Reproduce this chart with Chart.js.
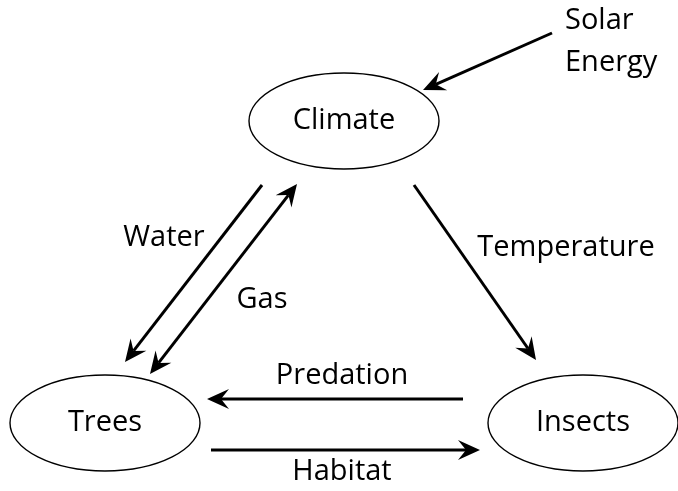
<!DOCTYPE html>
<html>
<head>
<meta charset="utf-8">
<script src="https://cdn.jsdelivr.net/npm/chart.js@4.4.1/dist/chart.umd.min.js"></script>
<style>
  html, body { margin: 0; padding: 0; background: #fff; }
  #wrap { width: 678px; height: 491px; }
</style>
</head>
<body>
<div id="wrap"><canvas id="diagram" width="678" height="491"></canvas></div>
<script>
// ========== Dados do diagrama ==========
const nodeNames = ['Climate', 'Trees', 'Insects'];
const nodeX = [344, 105, 583];
const nodeY = [121, 423, 423];

const arrowLabels = ['', 'Water', 'Gas', 'Temperature', 'Predation', 'Habitat'];
const arrowStartX = [552, 262, 150, 414, 463, 211];
const arrowStartY = [33, 185, 374, 185, 399, 450];
const arrowEndX = [423, 125, 297, 536, 207, 480];
const arrowEndY = [90, 362, 184, 360, 399, 450];
const arrowBothEnds = [false, false, true, false, false, false];
const labelX = [0, 164, 262, 566, 342, 342];
const labelY = [0, 238, 300, 248, 376, 472];

const sourceLines = ['Solar', 'Energy'];
const sourceX = [565, 565];
const sourceY = [21, 63];

const FONT = '29px "Open Sans", "Noto Sans", sans-serif';

function drawHead(ctx, x0, y0, x1, y1) {
    const ang = Math.atan2(y1 - y0, x1 - x0);
    const len = 22, half = 10, notch = 8;
    ctx.save();
    ctx.translate(x1, y1);
    ctx.rotate(ang);
    ctx.beginPath();
    ctx.moveTo(0, 0);
    ctx.lineTo(-len, -half);
    ctx.lineTo(-len + notch, 0);
    ctx.lineTo(-len, half);
    ctx.closePath();
    ctx.fill();
    ctx.restore();
}

const diagramPlugin = {
    id: 'diagram',
    afterDatasetsDraw(chart) {
        const { ctx, scales: { x, y } } = chart;
        ctx.save();
        ctx.strokeStyle = '#000';
        ctx.fillStyle = '#000';

        // elipses + nomes
        ctx.lineWidth = 1.4;
        ctx.font = FONT;
        ctx.textAlign = 'center';
        ctx.textBaseline = 'middle';
        nodeNames.forEach((name, i) => {
            const cx = x.getPixelForValue(nodeX[i]);
            const cy = y.getPixelForValue(nodeY[i]);
            ctx.beginPath();
            ctx.ellipse(cx, cy, 95, 48, 0, 0, Math.PI * 2);
            ctx.stroke();
            ctx.fillText(name, cx, cy);
        });

        // setas
        ctx.lineWidth = 3;
        arrowLabels.forEach((lab, i) => {
            const sx = x.getPixelForValue(arrowStartX[i]);
            const sy = y.getPixelForValue(arrowStartY[i]);
            const ex = x.getPixelForValue(arrowEndX[i]);
            const ey = y.getPixelForValue(arrowEndY[i]);
            const ang = Math.atan2(ey - sy, ex - sx);
            const trim = 14;
            const sx2 = arrowBothEnds[i] ? sx + Math.cos(ang) * trim : sx;
            const sy2 = arrowBothEnds[i] ? sy + Math.sin(ang) * trim : sy;
            ctx.beginPath();
            ctx.moveTo(sx2, sy2);
            ctx.lineTo(ex - Math.cos(ang) * trim, ey - Math.sin(ang) * trim);
            ctx.stroke();
            drawHead(ctx, sx, sy, ex, ey);
            if (arrowBothEnds[i]) drawHead(ctx, ex, ey, sx, sy);
            if (lab) ctx.fillText(lab, x.getPixelForValue(labelX[i]), y.getPixelForValue(labelY[i]));
        });

        // Solar Energy
        ctx.textAlign = 'left';
        sourceLines.forEach((t, i) => {
            ctx.fillText(t, x.getPixelForValue(sourceX[i]), y.getPixelForValue(sourceY[i]));
        });
        ctx.restore();
    }
};

new Chart(document.getElementById('diagram'), {
    type: 'scatter',
    data: {
        datasets: [{
            data: nodeNames.map((n, i) => ({ x: nodeX[i], y: nodeY[i] })),
            pointRadius: 0,
            pointHoverRadius: 0,
        }]
    },
    options: {
        responsive: false,
        animation: false,
        events: [],
        layout: { padding: 0 },
        plugins: { legend: { display: false }, tooltip: { enabled: false } },
        scales: {
            x: { type: 'linear', min: 0, max: 678, display: false },
            y: { type: 'linear', min: 0, max: 491, reverse: true, display: false }
        }
    },
    plugins: [diagramPlugin]
});
</script>
</body>
</html>
